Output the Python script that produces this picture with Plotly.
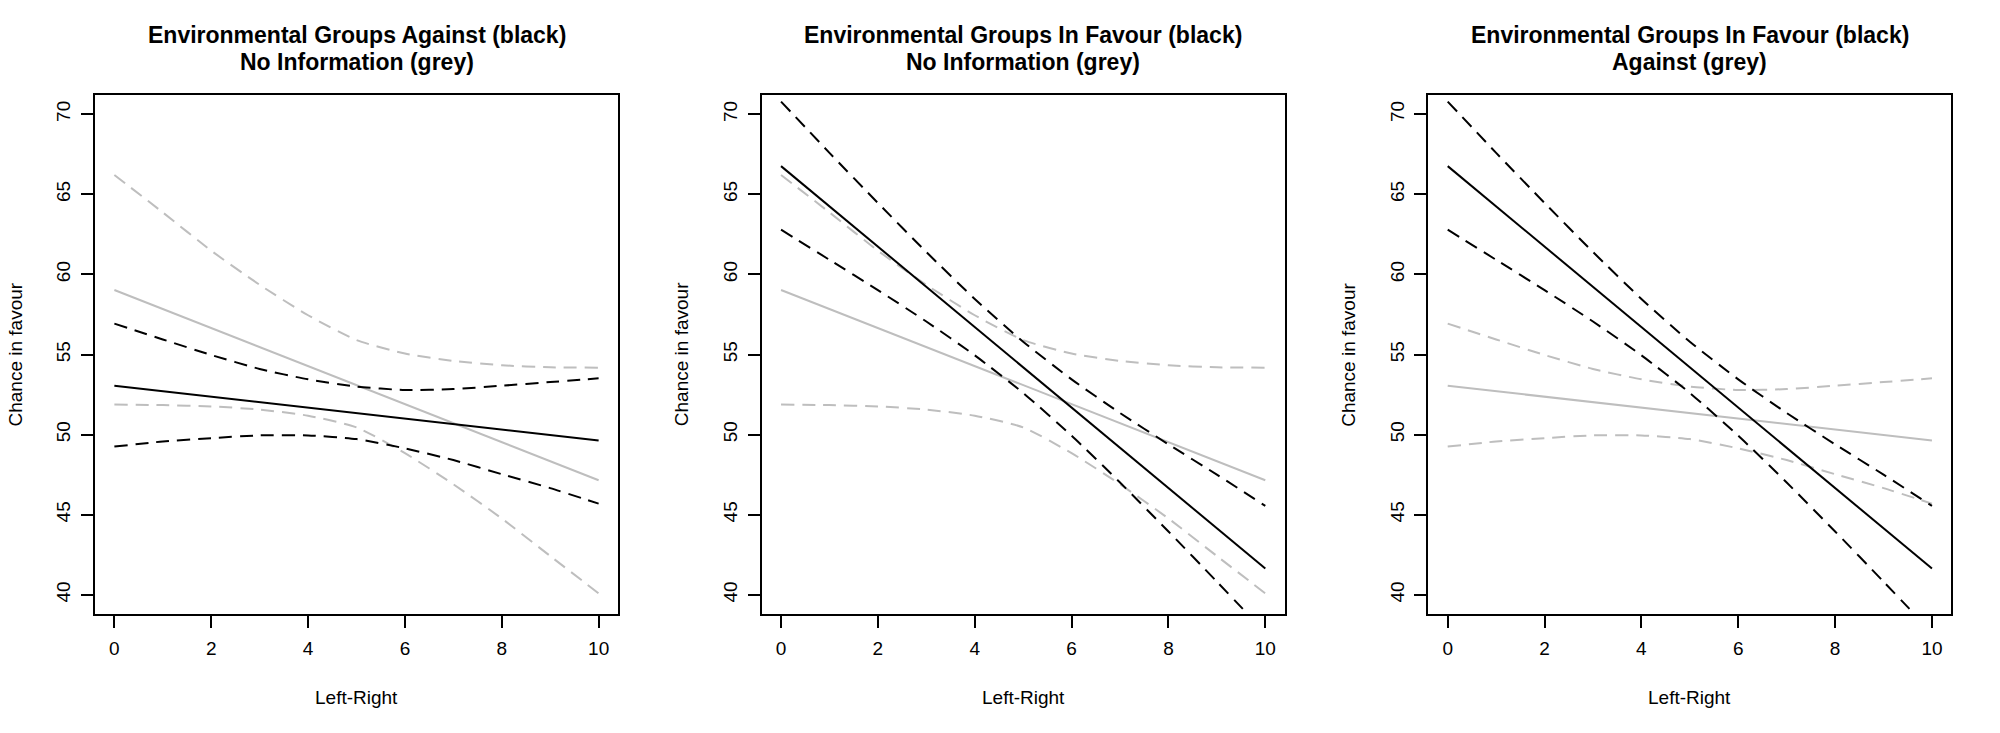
import plotly.graph_objects as go

# ---------------- data ----------------
x_vals = [0, 1, 2, 3, 4, 5, 6, 7, 8, 9, 10]

# Environmental groups against
against_mean = [53.05, 52.71, 52.37, 52.02, 51.68, 51.34, 51.00, 50.66, 50.31, 49.97, 49.63]
against_upper = [56.93, 55.94, 54.97, 54.10, 53.45, 53.00, 52.78, 52.84, 53.05, 53.28, 53.51]
against_lower = [49.25, 49.57, 49.78, 49.95, 49.95, 49.72, 49.14, 48.41, 47.53, 46.66, 45.69]

# No information
noinfo_mean = [59.03, 57.84, 56.65, 55.47, 54.28, 53.09, 51.90, 50.71, 49.53, 48.34, 47.15]
noinfo_upper = [66.21, 63.87, 61.48, 59.35, 57.45, 55.90, 55.06, 54.60, 54.33, 54.20, 54.18]
noinfo_lower = [51.88, 51.84, 51.76, 51.56, 51.18, 50.45, 48.84, 46.90, 44.76, 42.42, 40.09]

# Environmental groups in favour
favour_mean = [66.76, 64.25, 61.74, 59.23, 56.71, 54.20, 51.69, 49.18, 46.67, 44.16, 41.64]
favour_upper = [70.79, 67.59, 64.46, 61.40, 58.47, 55.80, 53.45, 51.35, 49.39, 47.50, 45.55]
favour_lower = [62.79, 60.91, 59.02, 57.06, 54.95, 52.60, 49.93, 47.01, 43.95, 40.82, 37.64]

x_ticks = [0, 2, 4, 6, 8, 10]
y_ticks = [40, 45, 50, 55, 60, 65, 70]

panel_titles = [
    ("Environmental Groups Against (black)", "No Information (grey)"),
    ("Environmental Groups In Favour (black)", "No Information (grey)"),
    ("Environmental Groups In Favour (black)", "Against (grey)"),
]
groups = {
    "against": (against_mean, against_lower, against_upper),
    "noinfo": (noinfo_mean, noinfo_lower, noinfo_upper),
    "favour": (favour_mean, favour_lower, favour_upper),
}
panel_series = [("against", "noinfo"), ("favour", "noinfo"), ("favour", "against")]

x_label = "Left-Right"
y_label = "Chance in favour"

# ---------------- styling / layout ----------------
W, H = 2000, 733
PANEL_W = W / 3
BOX_L, BOX_R = 95, 618
BOX_T, BOX_B = 95, 614
FONT = "Liberation Sans, Arial, Helvetica, sans-serif"
GREY = "#BEBEBE"
DASH = "13px,8px"

fig = go.Figure()
annotations = []
layout_axes = {}

for i in range(3):
    sfx = "" if i == 0 else str(i + 1)
    xa, ya = "x" + sfx, "y" + sfx
    black_key, grey_key = panel_series[i]
    for key, color in ((grey_key, GREY), (black_key, "black")):
        mean, lower, upper = groups[key]
        fig.add_trace(go.Scatter(x=x_vals, y=mean, mode="lines", xaxis=xa, yaxis=ya,
                                 line=dict(color=color, width=2), showlegend=False,
                                 hoverinfo="skip"))
        for band in (lower, upper):
            fig.add_trace(go.Scatter(x=x_vals, y=band, mode="lines", xaxis=xa, yaxis=ya,
                                     line=dict(color=color, width=2, dash=DASH, shape="spline",
                                               smoothing=0.6),
                                     showlegend=False, hoverinfo="skip"))

    left = BOX_L + i * PANEL_W
    right = BOX_R + i * PANEL_W
    common = dict(showgrid=False, zeroline=False, showline=True, mirror=True,
                  linecolor="black", linewidth=2, ticks="outside", ticklen=12,
                  tickwidth=2, tickcolor="black",
                  tickfont=dict(family=FONT, size=19, color="black"))
    layout_axes["xaxis" + sfx] = dict(domain=[left / W, right / W], range=[-0.4, 10.4],
                                      tickvals=x_ticks, anchor=ya, ticklabelstandoff=4,
                                      **common)
    layout_axes["yaxis" + sfx] = dict(domain=[1 - BOX_B / H, 1 - BOX_T / H],
                                      range=[38.8, 71.2], tickvals=y_ticks,
                                      tickangle=-90, anchor=xa, ticklabelstandoff=3,
                                      **common)

    cx = (left + right) / 2 / W
    t1, t2 = panel_titles[i]
    for txt, yy in ((t1, 35), (t2, 62)):
        annotations.append(dict(text="<b>%s</b>" % txt, xref="paper", yref="paper",
                                x=cx, y=1 - yy / H, xanchor="center", yanchor="middle",
                                showarrow=False, font=dict(family=FONT, size=23, color="black")))
    annotations.append(dict(text=x_label, xref="paper", yref="paper", x=cx, y=1 - 697 / H,
                            xanchor="center", yanchor="middle", showarrow=False,
                            font=dict(family=FONT, size=19, color="black")))
    annotations.append(dict(text=y_label, xref="paper", yref="paper",
                            x=(15 + i * PANEL_W) / W, y=1 - ((BOX_T + BOX_B) / 2) / H,
                            xanchor="center", yanchor="middle", textangle=-90,
                            showarrow=False, font=dict(family=FONT, size=19, color="black")))

fig.update_layout(width=W, height=H, margin=dict(l=0, r=0, t=0, b=0),
                  paper_bgcolor="white", plot_bgcolor="white",
                  annotations=annotations, **layout_axes)

fig.write_html("out.html", config={"displayModeBar": False},
               post_script="document.body.style.margin='0';document.body.style.overflow='hidden';")
